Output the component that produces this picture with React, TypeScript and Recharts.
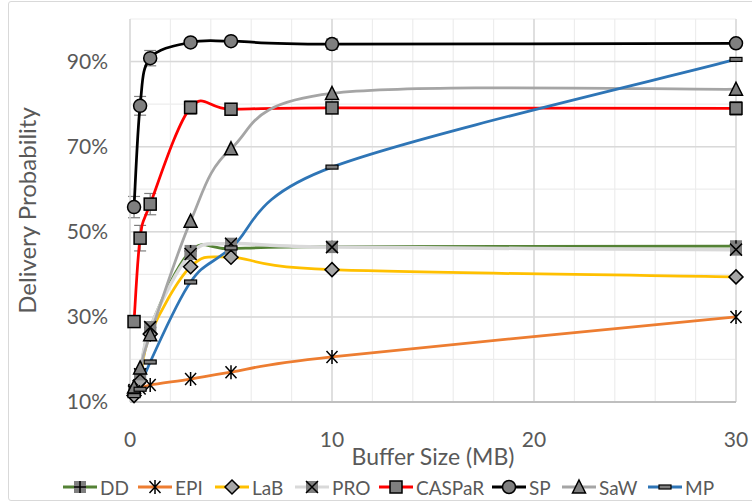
import React from "react";
import { LineChart, Line, XAxis, YAxis, CartesianGrid, Legend, ErrorBar } from "recharts";

// buffer sizes (MB) at which each protocol was measured
const bufferSizes = [0.2, 0.5, 1, 3, 5, 10, 30];

// delivery probability (%) per protocol
const dd = [12.5, 16.5, 27.5, 45.5, 46.0, 46.5, 46.6];
const epi = [12.8, 13.2, 14.0, 15.4, 17.0, 20.6, 30.0];
const lab = [11.5, 15.0, 26.0, 41.8, 44.0, 41.1, 39.4];
const pro = [12.5, 16.5, 27.6, 44.8, 47.2, 46.4, 45.8];
const caspar = [28.9, 48.5, 56.5, 79.2, 78.8, 79.1, 79.0];
const sp = [55.8, 79.6, 90.8, 94.5, 94.8, 94.1, 94.3];
const saw = [13.5, 18.0, 25.8, 52.5, 69.5, 82.5, 83.5];
const mp = [11.5, 13.0, 19.4, 38.2, 46.2, 65.2, 90.5];

// error margins (%) shown on the two top protocols
const spErr = [2.5, 2.2, 1.8, 0.8, 0.8, 1.2, 0.6];
const casparErr = [0.6, 3.0, 2.5, 1.6, 0.8, 0.8, 1.6];

const xTicks = [0, 2, 4, 6, 8, 10, 12, 14, 16, 18, 20, 22, 24, 26, 28, 30];
const xLabelTicks = [0, 10, 20, 30];
const yTicks = [10, 20, 30, 40, 50, 60, 70, 80, 90, 100];
const yLabelTicks = [10, 30, 50, 70, 90];

const FONT = 'Lato, "Open Sans", sans-serif';
const TEXT = "#595959";
const MARK_FILL = "#7f7f7f";

// left edge of each legend entry
const LEGEND_X = [63, 138, 215, 295, 379, 492, 562, 648];

type MarkerKind = "plus" | "asterisk" | "diamond" | "bowtie" | "square" | "circle" | "triangle" | "dash";

const series: { key: string; label: string; color: string; marker: MarkerKind; values: number[]; width: number }[] = [
  { key: "dd", label: "DD", color: "#548235", marker: "plus", values: dd, width: 2.75 },
  { key: "epi", label: "EPI", color: "#ed7d31", marker: "asterisk", values: epi, width: 2.75 },
  { key: "lab", label: "LaB", color: "#ffc000", marker: "diamond", values: lab, width: 2.75 },
  { key: "pro", label: "PRO", color: "#d9d9d9", marker: "bowtie", values: pro, width: 3.5 },
  { key: "caspar", label: "CASPaR", color: "#ff0000", marker: "square", values: caspar, width: 2.75 },
  { key: "sp", label: "SP", color: "#000000", marker: "circle", values: sp, width: 2.75 },
  { key: "saw", label: "SaW", color: "#a5a5a5", marker: "triangle", values: saw, width: 2.75 },
  { key: "mp", label: "MP", color: "#2e75b6", marker: "dash", values: mp, width: 2.75 },
];

const data = bufferSizes.map((x, i) => {
  const row: Record<string, number> = { x, spErr: spErr[i], casparErr: casparErr[i] };
  series.forEach((s) => (row[s.key] = s.values[i]));
  return row;
});

// spreadsheet-style smoothing: cubic Bezier with Catmull-Rom tangents (1/6 of neighbour span)
function smoothCurve(context: any) {
  let pts: [number, number][] = [];
  return {
    areaStart() {},
    areaEnd() {},
    lineStart() {
      pts = [];
    },
    point(x: number, y: number) {
      pts.push([+x, +y]);
    },
    lineEnd() {
      if (!pts.length) return;
      context.moveTo(pts[0][0], pts[0][1]);
      for (let i = 0; i < pts.length - 1; i++) {
        const p0 = pts[i - 1] || pts[i];
        const p1 = pts[i];
        const p2 = pts[i + 1];
        const p3 = pts[i + 2] || p2;
        context.bezierCurveTo(
          p1[0] + (p2[0] - p0[0]) / 6,
          p1[1] + (p2[1] - p0[1]) / 6,
          p2[0] - (p3[0] - p1[0]) / 6,
          p2[1] - (p3[1] - p1[1]) / 6,
          p2[0],
          p2[1]
        );
      }
    },
  };
}

function Marker({ kind, cx, cy }: { kind: MarkerKind; cx: number; cy: number }) {
  const s = 6;
  switch (kind) {
    case "circle":
      return <circle cx={cx} cy={cy} r={6.5} fill={MARK_FILL} stroke="#000" strokeWidth={1.5} />;
    case "square":
      return <rect x={cx - s} y={cy - s} width={2 * s} height={2 * s} fill={MARK_FILL} stroke="#000" strokeWidth={1.5} />;
    case "triangle":
      return <polygon points={`${cx},${cy - 7} ${cx + 6.5},${cy + 6} ${cx - 6.5},${cy + 6}`} fill={MARK_FILL} stroke="#000" strokeWidth={1.5} />;
    case "diamond":
      return <polygon points={`${cx},${cy - 7} ${cx + 7},${cy} ${cx},${cy + 7} ${cx - 7},${cy}`} fill="#a6a6a6" stroke="#000" strokeWidth={1.5} />;
    case "bowtie":
      return (
        <g>
          <rect x={cx - s} y={cy - s} width={2 * s} height={2 * s} fill={MARK_FILL} />
          <path d={`M${cx - s},${cy - s}L${cx + s},${cy + s}M${cx + s},${cy - s}L${cx - s},${cy + s}`} stroke="#000" strokeWidth={1.5} />
        </g>
      );
    case "plus":
      return (
        <g>
          <rect x={cx - s} y={cy - s} width={2 * s} height={2 * s} fill={MARK_FILL} />
          <path d={`M${cx - s},${cy}L${cx + s},${cy}M${cx},${cy - s}L${cx},${cy + s}`} stroke="#000" strokeWidth={1.5} />
        </g>
      );
    case "asterisk":
      return (
        <path
          d={`M${cx - 5.5},${cy - 6}L${cx + 5.5},${cy + 6}M${cx + 5.5},${cy - 6}L${cx - 5.5},${cy + 6}M${cx},${cy - 7}L${cx},${cy + 7}`}
          stroke="#000"
          strokeWidth={1.5}
        />
      );
    case "dash":
      return <rect x={cx - 6} y={cy - 2} width={12} height={4} fill={MARK_FILL} stroke="#000" strokeWidth={1.2} />;
  }
}

const makeDot = (kind: MarkerKind) => (props: any) => {
  const { cx, cy, index } = props;
  if (cx == null || cy == null) return <g key={index} />;
  return (
    <g key={index}>
      <Marker kind={kind} cx={cx} cy={cy} />
    </g>
  );
};

function LegendContent() {
  return (
    <div style={{ position: "relative", height: 30, fontFamily: FONT, fontSize: 19, color: TEXT }}>
      {series.map((s, i) => (
        <div key={s.key} style={{ position: "absolute", left: LEGEND_X[i], top: 0, height: 30, display: "flex", alignItems: "center", gap: 3 }}>
          <svg width={34} height={18}>
            <line x1={0} y1={9} x2={34} y2={9} stroke={s.color} strokeWidth={3} />
            <Marker kind={s.marker} cx={17} cy={9} />
          </svg>
          <span style={{ whiteSpace: "nowrap" }}>{s.label}</span>
        </div>
      ))}
    </div>
  );
}

export default function App() {
  return (
    <div style={{ position: "absolute", left: 0, top: 0, width: 752, height: 502, overflow: "hidden", background: "#fff" }}>
      <div
        style={{
          position: "absolute",
          left: 8,
          top: 1,
          width: 760,
          height: 500,
          border: "1.5px solid #d9d9d9",
          borderRadius: 3,
          boxSizing: "border-box",
        }}
      />
      <LineChart width={752} height={502} data={data} margin={{ top: 19, right: 16, left: 0, bottom: 0 }}>
        <CartesianGrid stroke="#ededed" strokeWidth={1.2} verticalValues={xTicks} horizontalValues={yTicks} />
        <CartesianGrid stroke="#d9d9d9" strokeWidth={1.5} verticalValues={[10, 20, 30]} horizontalValues={[30, 50, 70, 90]} />
        <XAxis
          dataKey="x"
          type="number"
          domain={[0, 30]}
          ticks={xTicks}
          interval={0}
          height={70}
          tickSize={0}
          tickMargin={30}
          tickFormatter={(v: number) => (xLabelTicks.includes(v) ? String(v) : "")}
          tick={{ fill: TEXT, fontSize: 21, fontFamily: FONT }}
          axisLine={{ stroke: "#bfbfbf", strokeWidth: 2 }}
          label={{ value: "Buffer Size (MB)", position: "insideBottom", offset: 7, fill: TEXT, fontSize: 23, fontFamily: FONT }}
        />
        <YAxis
          type="number"
          domain={[10, 100]}
          ticks={yTicks}
          interval={0}
          width={130}
          tickSize={0}
          tickMargin={22}
          tickFormatter={(v: number) => (yLabelTicks.includes(v) ? `${v}%` : "")}
          tick={{ fill: TEXT, fontSize: 21, fontFamily: FONT }}
          axisLine={{ stroke: "#d9d9d9", strokeWidth: 1.5 }}
          label={{ value: "Delivery Probability", angle: -90, position: "insideLeft", offset: 27, fill: TEXT, fontSize: 24, fontFamily: FONT, style: { textAnchor: "middle" } }}
        />
        <Legend verticalAlign="bottom" height={30} wrapperStyle={{ left: 0, width: 752 }} content={<LegendContent />} />
        {series.map((s) => (
          <Line
            key={s.key}
            type={smoothCurve as any}
            dataKey={s.key}
            stroke={s.color}
            strokeWidth={s.width}
            dot={makeDot(s.marker)}
            activeDot={false}
            isAnimationActive={false}
          >
            {s.key === "sp" && <ErrorBar dataKey="spErr" width={6} stroke="#7f7f7f" strokeWidth={1.2} />}
            {s.key === "caspar" && <ErrorBar dataKey="casparErr" width={6} stroke="#7f7f7f" strokeWidth={1.2} />}
          </Line>
        ))}
      </LineChart>
    </div>
  );
}
